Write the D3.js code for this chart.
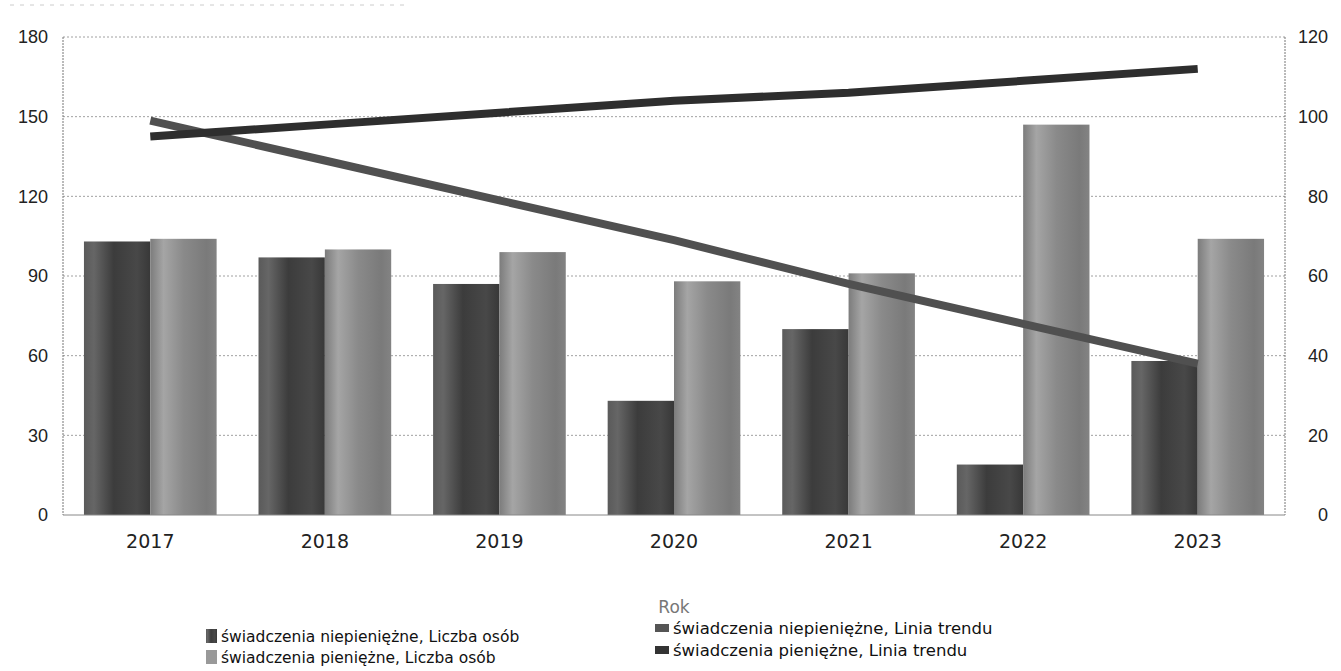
<!DOCTYPE html>
<html><head><meta charset="utf-8">
<script src="https://cdn.jsdelivr.net/npm/d3@7"></script>
<style>html,body{margin:0;padding:0;background:#fff;}svg{display:block;}</style>
</head><body>
<svg id="chart" width="1341" height="671"></svg>
<script>
const years = ["2017","2018","2019","2020","2021","2022","2023"];
const niepieniezne = [103, 97, 87, 43, 70, 19, 58];
const pieniezne = [104, 100, 99, 88, 91, 147, 104];
const trendNiepieniezne = [99, 89, 79, 69, 58, 48, 38];
const trendPieniezne = [95, 98, 101, 104, 106, 109, 112];
const leftTicks = [0, 30, 60, 90, 120, 150, 180];
const rightTicks = [0, 20, 40, 60, 80, 100, 120];
const legendLabels = [
  "świadczenia niepieniężne, Liczba osób",
  "świadczenia pieniężne, Liczba osób",
  "świadczenia niepieniężne, Linia trendu",
  "świadczenia pieniężne, Linia trendu"
];

const svg = d3.select("#chart");
const L = 63, R = 1285, T = 37, B = 515;

const x = d3.scaleBand().domain(years).range([L, R]).paddingInner(0.24).paddingOuter(0.12);
const x1 = d3.scaleBand().domain([0,1]).range([0, x.bandwidth()]);
const yL = d3.scaleLinear().domain([0,180]).range([B, T]);
const yR = d3.scaleLinear().domain([0,120]).range([B, T]);

const defs = svg.append("defs");
function grad(id, stops){
  const g = defs.append("linearGradient").attr("id", id).attr("x1","0").attr("x2","1").attr("y1","0").attr("y2","0");
  stops.forEach(([o,c]) => g.append("stop").attr("offset", o).attr("stop-color", c));
}
grad("gDark", [[0,"#5a5a5a"],[0.15,"#666"],[0.45,"#3c3c3c"],[0.8,"#484848"],[1,"#383838"]]);
grad("gLight", [[0,"#7c7c7c"],[0.2,"#a5a5a5"],[0.5,"#8a8a8a"],[0.85,"#7a7a7a"],[1,"#838383"]]);

// faint top artefact line
svg.append("line").attr("x1", 10).attr("x2", 410).attr("y1", 5).attr("y2", 5)
  .attr("stroke", "#ccc").attr("stroke-dasharray", "4,6");

// gridlines
svg.append("g").selectAll("line").data(leftTicks.filter(d => d > 0)).join("line")
  .attr("x1", L).attr("x2", R).attr("y1", d => yL(d)).attr("y2", d => yL(d))
  .attr("stroke", "#a0a0a0").attr("stroke-width", 1).attr("stroke-dasharray", "2,2");

// left/right axis lines
svg.append("line").attr("x1", L).attr("x2", L).attr("y1", T).attr("y2", B)
  .attr("stroke", "#777").attr("stroke-dasharray", "2,1");
svg.append("line").attr("x1", R).attr("x2", R).attr("y1", T).attr("y2", B)
  .attr("stroke", "#777").attr("stroke-dasharray", "2,1");

// bars
const groups = svg.append("g").selectAll("g").data(years).join("g")
  .attr("transform", d => `translate(${x(d)},0)`);
groups.append("rect")
  .attr("x", x1(0)).attr("width", x1.bandwidth())
  .attr("y", (d,i) => yL(niepieniezne[i])).attr("height", (d,i) => B - yL(niepieniezne[i]))
  .attr("fill", "url(#gDark)");
groups.append("rect")
  .attr("x", x1(1)).attr("width", x1.bandwidth())
  .attr("y", (d,i) => yL(pieniezne[i])).attr("height", (d,i) => B - yL(pieniezne[i]))
  .attr("fill", "url(#gLight)");

// bottom axis line
svg.append("line").attr("x1", L).attr("x2", R).attr("y1", B).attr("y2", B)
  .attr("stroke", "#888").attr("stroke-width", 1);

// trend lines
const cx = d => x(d) + x.bandwidth()/2;
const lineN = d3.line().x((d,i) => cx(years[i])).y(d => yR(d));
svg.append("path").datum(trendNiepieniezne).attr("d", lineN)
  .attr("fill","none").attr("stroke","#505050").attr("stroke-width", 8);
svg.append("path").datum(trendPieniezne).attr("d", lineN)
  .attr("fill","none").attr("stroke","#2e2e2e").attr("stroke-width", 8);

// axes labels
const axisL = d3.axisLeft(yL).tickValues(leftTicks).tickSize(0).tickPadding(15);
svg.append("g").attr("transform", `translate(${L},0)`).call(axisL)
  .call(g => g.select(".domain").remove())
  .selectAll("text").attr("font-family","Liberation Sans, Arial, sans-serif").attr("font-size", 18).attr("fill","#222");
const axisR = d3.axisRight(yR).tickValues(rightTicks).tickSize(0).tickPadding(14);
const gr = svg.append("g").attr("transform", `translate(${R},0)`).call(axisR)
  .call(g => g.select(".domain").remove());
gr.selectAll("text").attr("font-family","Liberation Sans, Arial, sans-serif").attr("font-size", 18).attr("fill","#222")
  .attr("text-anchor","end").attr("dx", 29);
const axisB = d3.axisBottom(x).tickSize(0).tickPadding(20);
svg.append("g").attr("transform", `translate(0,${B})`).call(axisB)
  .call(g => g.select(".domain").remove())
  .selectAll("text").attr("font-family","DejaVu Sans, Verdana, sans-serif").attr("font-size", 19).attr("fill","#222");

svg.append("text").attr("x", (L+R)/2).attr("y", 613).attr("text-anchor","middle")
  .attr("font-family","DejaVu Sans, Verdana, sans-serif").attr("font-size", 17).attr("fill","#777").text("Rok");

// legend
const legendFills = ["url(#gDark)", "#999", "#555", "#333"];
const legPos = [[206, 642], [206, 663], [655, 634], [655, 656]];
const legSize = [15.5, 15.5, 16.5, 16.5];
const leg = svg.append("g").selectAll("g").data(legendLabels).join("g")
  .attr("transform", (d,i) => `translate(${legPos[i][0]},${legPos[i][1]})`);
leg.append("rect").attr("x", 0).attr("y", (d,i) => i < 2 ? -13 : -10).attr("width", (d,i) => i < 2 ? 11 : 14).attr("height", (d,i) => i < 2 ? 14 : 8)
  .attr("fill", (d,i) => legendFills[i]);
leg.append("text").attr("x", (d,i) => i < 2 ? 15 : 18).attr("y", 0)
  .attr("font-family","DejaVu Sans, Verdana, sans-serif").attr("font-size", (d,i) => legSize[i]).attr("fill","#111").text(d => d);
</script>
</body></html>
